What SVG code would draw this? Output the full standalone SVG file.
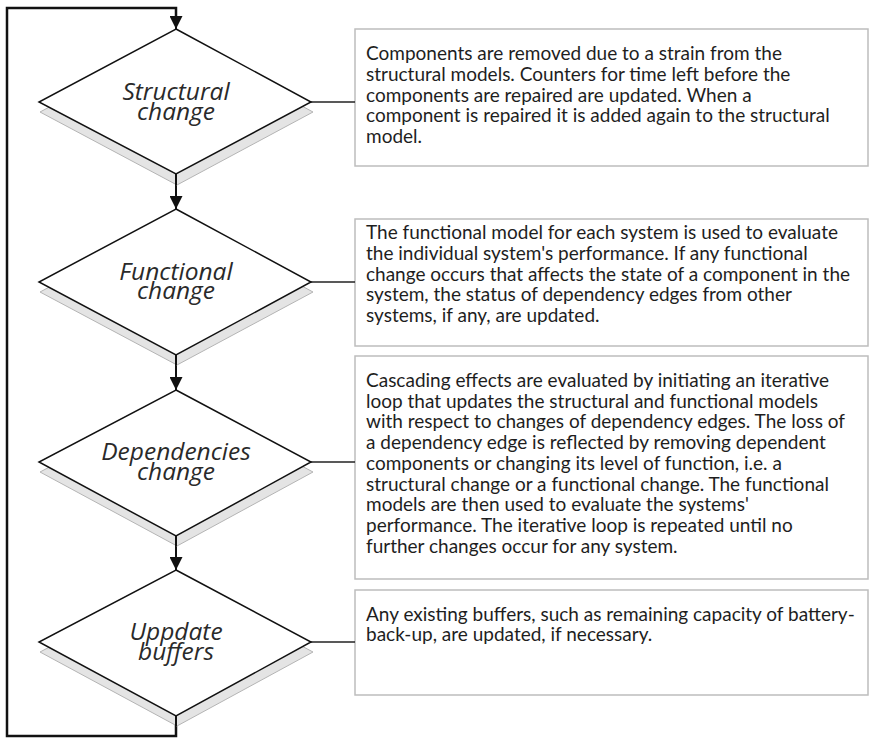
<svg xmlns="http://www.w3.org/2000/svg" width="869" height="738" viewBox="0 0 869 738">
  <style>
    .bg { fill: #ffffff; }
    .diamond { fill: #ffffff; stroke: #111111; stroke-width: 1.5; }
    .shadow { fill: #e4e4e4; stroke: #b4b4b4; stroke-width: 1; }
    .label { font-family: "Open Sans", Lato, sans-serif; font-style: italic; font-size: 24.5px; fill: #2a2a2a; text-anchor: middle; }
    .box { fill: #ffffff; stroke: #bdbdbd; stroke-width: 1.5; }
    .desc { font-family: Lato, "Open Sans", sans-serif; font-size: 19px; fill: #1e1e1e; }
    .flow { fill: none; stroke: #111111; stroke-width: 2; }
    .loop { fill: none; stroke: #111111; stroke-width: 2.5; }
    .link { fill: none; stroke: #222222; stroke-width: 1.5; }
  </style>
  <defs>
    <marker id="arrow" viewBox="0 0 13 13" refX="13" refY="6.5" markerWidth="13" markerHeight="13" markerUnits="userSpaceOnUse" orient="auto">
      <path d="M0,0 L13,6.5 L0,13 Z" fill="#111111"/>
    </marker>
  </defs>

  <rect class="bg" x="0" y="0" width="869" height="738"/>

  <!-- description boxes -->
  <g id="desc-structural">
    <rect class="box" x="355" y="29" width="513" height="137"/>
    <text class="desc">
      <tspan x="366" y="60">Components are removed due to a strain from the</tspan>
      <tspan x="366" y="81">structural models. Counters for time left before the</tspan>
      <tspan x="366" y="101.5">components are repaired are updated. When a</tspan>
      <tspan x="366" y="122">component is repaired it is added again to the structural</tspan>
      <tspan x="366" y="143">model.</tspan>
    </text>
  </g>
  <g id="desc-functional">
    <rect class="box" x="355" y="219" width="513" height="127"/>
    <text class="desc">
      <tspan x="366" y="239">The functional model for each system is used to evaluate</tspan>
      <tspan x="366" y="260">the individual system's performance. If any functional</tspan>
      <tspan x="366" y="281">change occurs that affects the state of a component in the</tspan>
      <tspan x="366" y="301">system, the status of dependency edges from other</tspan>
      <tspan x="366" y="322">systems, if any, are updated.</tspan>
    </text>
  </g>
  <g id="desc-dependencies">
    <rect class="box" x="355" y="356" width="513" height="223"/>
    <text class="desc">
      <tspan x="366" y="387">Cascading effects are evaluated by initiating an iterative</tspan>
      <tspan x="366" y="407.7">loop that updates the structural and functional models</tspan>
      <tspan x="366" y="428.4">with respect to changes of dependency edges. The loss of</tspan>
      <tspan x="366" y="449.1">a dependency edge is reflected by removing dependent</tspan>
      <tspan x="366" y="469.8">components or changing its level of function, i.e. a</tspan>
      <tspan x="366" y="490.5">structural change or a functional change. The functional</tspan>
      <tspan x="366" y="511.2">models are then used to evaluate the systems'</tspan>
      <tspan x="366" y="531.9">performance. The iterative loop is repeated until no</tspan>
      <tspan x="366" y="552.6">further changes occur for any system.</tspan>
    </text>
  </g>
  <g id="desc-buffers">
    <rect class="box" x="355" y="590" width="513" height="105"/>
    <text class="desc">
      <tspan x="366" y="621">Any existing buffers, such as remaining capacity of battery-</tspan>
      <tspan x="366" y="641">back-up, are updated, if necessary.</tspan>
    </text>
  </g>

  <!-- connectors -->
  <g id="connectors">
    <path class="loop" d="M176,716 V736 H7 V8 H176 V16"/>
    <path class="flow" d="M176,14 V29" marker-end="url(#arrow)"/>
    <path class="flow" d="M176,174 V209" marker-end="url(#arrow)"/>
    <path class="flow" d="M176,354 V390" marker-end="url(#arrow)"/>
    <path class="flow" d="M176,534 V570" marker-end="url(#arrow)"/>
    <path class="link" d="M311,102 H355"/>
    <path class="link" d="M311,282 H355"/>
    <path class="link" d="M311,462 H355"/>
    <path class="link" d="M311,642 H355"/>
  </g>

  <!-- decision steps -->
  <g id="step-structural">
    <path class="shadow" d="M177,39 L313,112 L177,185 L40,112 Z"/>
    <path class="diamond" d="M176,29 L311,102 L176,174 L39,102 Z"/>
    <path class="flow" d="M176,174 V185"/>
    <text class="label"><tspan x="176" y="100">Structural</tspan><tspan x="176" y="120">change</tspan></text>
  </g>
  <g id="step-functional">
    <path class="shadow" d="M177,219 L313,292 L177,365 L40,292 Z"/>
    <path class="diamond" d="M176,209 L311,282 L176,355 L39,282 Z"/>
    <path class="flow" d="M176,355 V365"/>
    <text class="label"><tspan x="176" y="280">Functional</tspan><tspan x="176" y="299">change</tspan></text>
  </g>
  <g id="step-dependencies">
    <path class="shadow" d="M177,400 L313,472 L177,546 L40,472 Z"/>
    <path class="diamond" d="M176,390 L311,462 L176,536 L39,462 Z"/>
    <path class="flow" d="M176,536 V546"/>
    <text class="label"><tspan x="176" y="460">Dependencies</tspan><tspan x="176" y="480">change</tspan></text>
  </g>
  <g id="step-buffers">
    <path class="shadow" d="M177,580 L313,652 L177,726 L40,652 Z"/>
    <path class="diamond" d="M176,570 L311,642 L176,716 L39,642 Z"/>
    <path class="flow" d="M176,716 V726"/>
    <text class="label"><tspan x="176" y="640">Uppdate</tspan><tspan x="176" y="660">buffers</tspan></text>
  </g>
</svg>
